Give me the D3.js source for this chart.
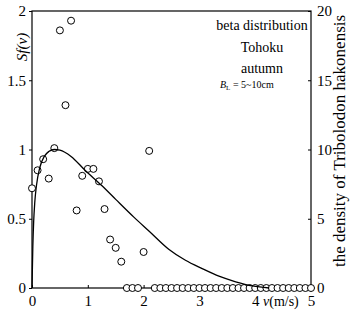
<!DOCTYPE html>
<html>
<head>
<meta charset="utf-8">
<script src="https://cdn.jsdelivr.net/npm/d3@7"></script>
<style>
  body { margin: 0; background: #fff; }
  svg, svg text { font-family: "Liberation Serif", "DejaVu Serif", serif; }
</style>
</head>
<body>
<div id="chart"></div>
<script>
// observed density of Tribolodon hakonensis (right axis) at each velocity
const velocity = [0, 0.1, 0.2, 0.3, 0.4, 0.5, 0.6, 0.7, 0.8, 0.9, 1.0, 1.1, 1.2, 1.3, 1.4, 1.5, 1.6, 1.7, 1.8, 1.9, 2.0, 2.1,
  2.2, 2.3, 2.4, 2.5, 2.6, 2.7, 2.8, 2.9, 3.0, 3.1, 3.2, 3.3, 3.4, 3.5, 3.6, 3.7, 3.8, 3.9, 4.0,
  4.1, 4.2, 4.3, 4.4, 4.5, 4.6, 4.7, 4.8, 4.9, 5.0];
const density = [7.2, 8.5, 9.3, 7.9, 10.1, 18.6, 13.2, 19.3, 5.6, 8.1, 8.6, 8.6, 7.7, 5.7, 3.5, 2.9, 1.9, 0, 0, 0, 2.6, 9.9,
  0, 0, 0, 0, 0, 0, 0, 0, 0, 0, 0, 0, 0, 0, 0, 0, 0, 0, 0,
  0, 0, 0, 0, 0, 0, 0, 0, 0, 0];

// fitted beta distribution curve
const curveV = [0, 0.015, 0.03, 0.05, 0.08, 0.14, 0.22, 0.3, 0.4, 0.5, 0.7, 0.95, 1.25, 1.5, 1.83, 2.1, 2.45, 2.75, 3.05, 3.35, 3.65, 3.95, 4.25];
const curveS = [0, 0.3, 0.48, 0.62, 0.74, 0.87, 0.95, 0.985, 1.0, 0.995, 0.95, 0.85, 0.74, 0.64, 0.51, 0.41, 0.28, 0.2, 0.14, 0.085, 0.045, 0.015, 0];

const xTicks = [0, 1, 2, 3, 4, 5];
const leftTicks = [0, 0.5, 1, 1.5, 2];
const rightTicks = [0, 5, 10, 15, 20];
const infoLines = ["beta distribution", "Tohoku", "autumn"];

const width = 351, height = 310;
const margin = { top: 11, right: 40, bottom: 22, left: 32 };

const svg = d3.select("#chart").append("svg")
  .attr("width", width)
  .attr("height", height);

const x = d3.scaleLinear().domain([0, 5]).range([margin.left, width - margin.right]);
const yL = d3.scaleLinear().domain([0, 2]).range([height - margin.bottom, margin.top]);
const yR = d3.scaleLinear().domain([0, 20]).range([height - margin.bottom, margin.top]);

// frame
svg.append("rect")
  .attr("x", x(0)).attr("y", yL(2))
  .attr("width", x(5) - x(0)).attr("height", yL(0) - yL(2))
  .attr("fill", "none").attr("stroke", "#000").attr("stroke-width", 1.2);

// axes
const styleAxis = g => {
  g.attr("font-family", null).attr("font-size", null);
  g.select(".domain").remove();
  g.selectAll("text")
    .style("font-family", "'Liberation Serif', serif")
    .style("font-size", "15px")
    .attr("fill", "#000");
  g.selectAll("line").attr("stroke", "#000");
};

svg.append("g")
  .attr("transform", `translate(0,${yL(0)})`)
  .call(d3.axisBottom(x).tickValues(xTicks).tickFormat(d3.format("d")).tickSize(-3).tickPadding(7))
  .call(styleAxis);

svg.append("g")
  .attr("transform", `translate(${x(0)},0)`)
  .call(d3.axisLeft(yL).tickValues(leftTicks).tickFormat(d => d).tickSize(3).tickPadding(3))
  .call(styleAxis);

svg.append("g")
  .attr("transform", `translate(${x(5)},0)`)
  .call(d3.axisRight(yR).tickValues(rightTicks).tickFormat(d3.format("d")).tickSize(-3).tickPadding(6))
  .call(styleAxis);

// observed points
svg.append("g")
  .selectAll("circle")
  .data(velocity.map((v, i) => [v, density[i]]))
  .join("circle")
  .attr("cx", d => x(d[0]))
  .attr("cy", d => yR(d[1]))
  .attr("r", 3.5)
  .attr("fill", "#fff")
  .attr("stroke", "#000")
  .attr("stroke-width", 1);

// beta distribution curve
const line = d3.line()
  .x(d => x(d[0]))
  .y(d => yL(d[1]))
  .curve(d3.curveMonotoneX);

svg.append("path")
  .datum(curveV.map((v, i) => [v, curveS[i]]))
  .attr("d", line)
  .attr("fill", "none")
  .attr("stroke", "#000")
  .attr("stroke-width", 1.3);

// annotation
svg.append("g")
  .selectAll("text")
  .data(infoLines)
  .join("text")
  .attr("x", 262)
  .attr("y", (d, i) => 30 + i * 21.5)
  .attr("text-anchor", "middle")
  .style("font-size", "14px")
  .text(d => d);

const bl = svg.append("text")
  .attr("x", 220)
  .attr("y", 88)
  .style("font-size", "10px");
bl.append("tspan").attr("font-style", "italic").text("B");
bl.append("tspan").style("font-size", "7px").attr("dy", 2).text("L");
bl.append("tspan").attr("dy", -2).text(" = 5~10cm");

// axis labels
svg.append("text")
  .attr("transform", `translate(27,47) rotate(-90)`)
  .attr("text-anchor", "middle")
  .style("font-size", "15px")
  .attr("font-style", "italic")
  .text("Sf(v)");

svg.append("text")
  .attr("transform", `translate(345,141) rotate(-90)`)
  .attr("text-anchor", "middle")
  .style("font-size", "17px")
  .text("the density of Tribolodon hakonensis");

const xl = svg.append("text")
  .attr("x", 263)
  .attr("y", yL(0) + 18)
  .style("font-size", "14px");
xl.append("tspan").attr("font-style", "italic").text("v");
xl.append("tspan").text("(m/s)");
</script>
</body>
</html>
